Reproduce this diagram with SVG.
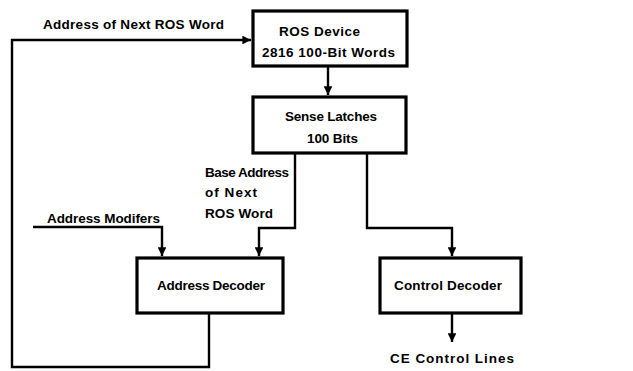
<svg xmlns="http://www.w3.org/2000/svg" width="633" height="371" viewBox="0 0 633 371">
<defs>
<style>
.box{fill:#fff;stroke:#000;stroke-width:3.2}
.ln{fill:none;stroke:#000;stroke-width:2.4}
.t{font-family:"Liberation Sans",Arial,sans-serif;font-size:13.5px;font-weight:bold;fill:#000}
</style>
<marker id="ah" viewBox="0 0 10 10" refX="10" refY="5" markerWidth="4" markerHeight="3.6" orient="auto" markerUnits="strokeWidth">
<path d="M0,0 L10,5 L0,10 z" fill="#000"/>
</marker>
</defs>
<rect width="633" height="371" fill="#fff"/>
<g id="connectors">
<path class="ln" d="M209,313 V367 H12 V40 H251" marker-end="url(#ah)"/>
<path class="ln" d="M328,67 V95" marker-end="url(#ah)"/>
<path class="ln" d="M295,153 V228 H259 V256" marker-end="url(#ah)"/>
<path class="ln" d="M33,227 H162 V256" marker-end="url(#ah)"/>
<path class="ln" d="M367,153 V228 H452 V256" marker-end="url(#ah)"/>
<path class="ln" d="M452,313 V342" marker-end="url(#ah)"/>
</g>
<g id="ros">
<rect class="box" x="253" y="11" width="154" height="55"/>
<text class="t" x="279" y="36" textLength="81" lengthAdjust="spacing">ROS Device</text>
<text class="t" x="262" y="57" textLength="133" lengthAdjust="spacing">2816 100-Bit Words</text>
</g>
<g id="sense">
<rect class="box" x="253" y="97" width="153" height="56"/>
<text class="t" x="285" y="121" textLength="92" lengthAdjust="spacing">Sense Latches</text>
<text class="t" x="307" y="143" textLength="51" lengthAdjust="spacing">100 Bits</text>
</g>
<g id="addrdec">
<rect class="box" x="137" y="258" width="146" height="55"/>
<text class="t" x="157" y="290" textLength="108" lengthAdjust="spacing">Address Decoder</text>
</g>
<g id="ctrldec">
<rect class="box" x="380" y="258" width="141" height="55"/>
<text class="t" x="394" y="290" textLength="108" lengthAdjust="spacing">Control Decoder</text>
</g>
<g id="labels">
<text class="t" x="43" y="29" textLength="181" lengthAdjust="spacing">Address of Next ROS Word</text>
<text class="t" x="205" y="177" textLength="84" lengthAdjust="spacing">Base Address</text>
<text class="t" x="205" y="197" textLength="52" lengthAdjust="spacing">of Next</text>
<text class="t" x="205" y="218" textLength="68" lengthAdjust="spacing">ROS Word</text>
<text class="t" x="47" y="223" textLength="113" lengthAdjust="spacing">Address Modifers</text>
<text class="t" x="390" y="363" textLength="124" lengthAdjust="spacing">CE Control Lines</text>
</g>
</svg>
